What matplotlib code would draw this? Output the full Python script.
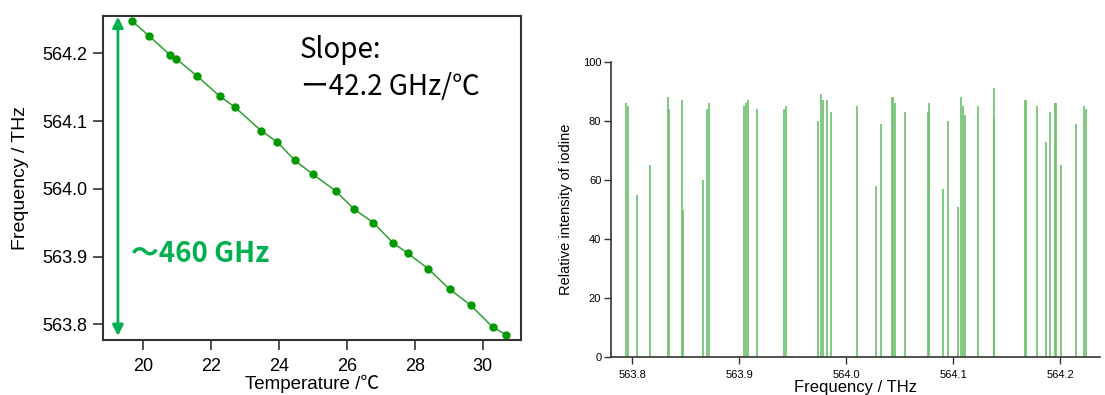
import matplotlib
matplotlib.use("Agg")
import matplotlib.pyplot as plt

# ---------------- data ----------------
temperature_c = [19.667, 20.168, 20.805, 20.973, 21.602, 22.251, 22.693, 23.472, 23.953,
                 24.469, 24.991, 25.670, 26.215, 26.785, 27.366, 27.797, 28.398, 29.027,
                 29.655, 30.295, 30.687]
frequency_thz = [564.248, 564.226, 564.197, 564.192, 564.166, 564.137, 564.121, 564.086, 564.069,
                 564.042, 564.022, 563.997, 563.970, 563.950, 563.920, 563.905, 563.882, 563.852,
                 563.828, 563.796, 563.785]
left_xticks = [20, 22, 24, 26, 28, 30]
left_yticks = [563.8, 563.9, 564.0, 564.1, 564.2]

iodine_freq_thz = [563.794, 563.796, 563.804, 563.816, 563.833, 563.834, 563.846, 563.847,
                   563.866, 563.870, 563.872, 563.904, 563.906, 563.908, 563.916, 563.942,
                   563.944, 563.973, 563.976, 563.978, 563.982, 563.986, 564.010, 564.0275,
                   564.032, 564.043, 564.044, 564.045, 564.055, 564.076, 564.0775, 564.090,
                   564.095, 564.104, 564.107, 564.109, 564.111, 564.123, 564.1375, 564.138,
                   564.1665, 564.168, 564.178, 564.1865, 564.1905, 564.1947, 564.196, 564.2006,
                   564.2145, 564.2225, 564.224]
iodine_intensity = [86, 85, 55, 65, 88, 84, 87, 50,
                    60, 84, 86, 85, 86, 87, 84, 84,
                    85, 80, 89, 87, 87, 83, 85, 58,
                    79, 88, 88, 86, 83, 83, 86, 57,
                    80, 51, 88, 85, 82, 85, 81, 91,
                    87, 87, 85, 73, 83, 86, 86, 65,
                    79, 85, 84]
right_xticks = [563.8, 563.9, 564.0, 564.1, 564.2]
right_yticks = [0, 20, 40, 60, 80, 100]

arrow_top, arrow_bottom = 564.254, 563.783

plt.rcParams['font.family'] = ['Liberation Sans', 'DejaVu Sans']

fig = plt.figure(figsize=(11.05, 3.95), dpi=100)
GREEN = '#00b050'
LINE_GREEN = '#2ea02e'
SPINE = '#333333'

# ---------------- left chart ----------------
ax1 = fig.add_axes([103/1105, (395-340)/395, 418/1105, 324.3/395])
ax1.plot(temperature_c, frequency_thz, '-o', color=LINE_GREEN, lw=1.1, ms=5.0,
         markerfacecolor='#009900', markeredgecolor='#009900')
ax1.set_xlim(18.82, 31.13)
ax1.set_ylim(563.777, 564.2555)
ax1.set_xticks(left_xticks)
ax1.set_yticks(left_yticks)
ax1.set_xticklabels([str(t) for t in left_xticks])
ax1.set_yticklabels([f"{t:.1f}" for t in left_yticks])
ax1.tick_params(axis='both', labelsize=13, length=7, width=1.2, color=SPINE, direction='out')
ax1.tick_params(axis='x', pad=6)
ax1.tick_params(axis='y', pad=4)
for s in ax1.spines.values():
    s.set_color(SPINE)
    s.set_linewidth(1.5)
ax1.set_ylabel('Frequency / THz', fontsize=14, labelpad=10)
ax1.set_xlabel('Temperature /℃', fontsize=13.5, labelpad=0,
               family=['Liberation Sans', 'Noto Sans CJK JP'])

ax1.annotate('', xy=(19.26, arrow_top), xytext=(19.26, arrow_bottom),
             arrowprops=dict(arrowstyle='<|-|>', color=GREEN, lw=2.0,
                             mutation_scale=16, shrinkA=0, shrinkB=0),
             annotation_clip=False)
ax1.text(19.63, 563.904, '～460 GHz', color=GREEN, fontsize=20, fontweight='bold',
         va='center', ha='left', family=['Noto Sans CJK JP', 'DejaVu Sans'])
ax1.text(24.62, 564.193, 'Slope:', color='black', fontsize=20, va='baseline', ha='left',
         family=['Noto Sans CJK JP', 'DejaVu Sans'])
ax1.text(24.66, 564.138, 'ー42.2 GHz/℃', color='black', fontsize=20, va='baseline', ha='left',
         family=['Noto Sans CJK JP', 'DejaVu Sans'])

# ---------------- right chart ----------------
ax2 = fig.add_axes([611/1105, (395-357.3)/395, (1100-611)/1105, 295.6/395])
ax2.vlines(iodine_freq_thz, 0, iodine_intensity, colors='#6cc06c', lw=1.2)
ax2.set_xlim(563.780, 564.237)
ax2.set_ylim(0, 100)
ax2.set_xticks(right_xticks)
ax2.set_yticks(right_yticks)
ax2.set_xticklabels([f"{t:.1f}" for t in right_xticks])
ax2.tick_params(axis='both', labelsize=8, length=5, width=1.0, color=SPINE, direction='out')
ax2.tick_params(axis='x', pad=4)
ax2.tick_params(axis='y', pad=2)
ax2.spines['top'].set_visible(False)
ax2.spines['right'].set_visible(False)
for side in ('left', 'bottom'):
    ax2.spines[side].set_color(SPINE)
    ax2.spines[side].set_linewidth(1.2)
ax2.set_ylabel('Relative intensity of iodine', fontsize=10.5, labelpad=7)
ax2.set_xlabel('Frequency / THz', fontsize=12, labelpad=0)

fig.savefig('out.png', dpi=100)
